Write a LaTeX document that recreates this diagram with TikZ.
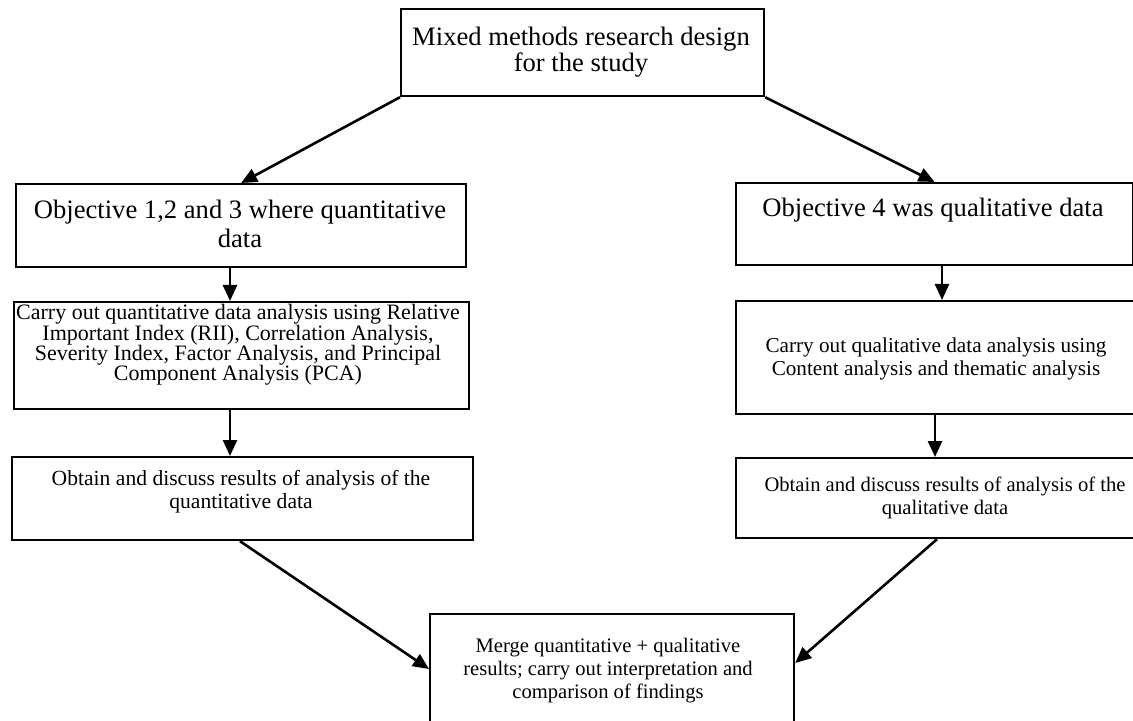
\documentclass[tikz,border=0pt]{standalone}
\usepackage{fontspec}
\setmainfont{Liberation Serif}
\usetikzlibrary{arrows.meta}
\lineskiplimit=-20pt
\begin{document}
\begin{tikzpicture}[x=0.5pt,y=-0.5pt,
  box/.style={draw, line width=1.1pt, inner sep=0pt, anchor=north west},
  arr/.style={line width=1.3pt, -{Triangle[length=8pt,width=7pt]}},
  txt/.style={align=center, inner sep=0pt, anchor=center},
  bigA/.style={txt, font=\fontsize{13.3pt}{13.35pt}\selectfont},
  bigB/.style={txt, font=\fontsize{13.3pt}{14.5pt}\selectfont},
  midA/.style={txt, font=\fontsize{11pt}{10.15pt}\selectfont},
  midB/.style={txt, font=\fontsize{10.6pt}{11.15pt}\selectfont},
  midC/.style={txt, font=\fontsize{10.8pt}{11.65pt}\selectfont},
  midD/.style={txt, font=\fontsize{10.3pt}{11.65pt}\selectfont},
  midE/.style={txt, font=\fontsize{10.3pt}{11.4pt}\selectfont}]
\useasboundingbox (0,0) rectangle (1133,721);
\clip (0,0) rectangle (1133,721);
\fill[white] (0,0) rectangle (1133,721);

% boxes
\node[box, minimum width=181.5pt, minimum height=43.5pt] (t)  at (400,8)   {};
\node[box, minimum width=225pt,   minimum height=41.5pt] (b2) at (15,183)  {};
\node[box, minimum width=198.5pt, minimum height=41pt]   (b3) at (735,182) {};
\node[box, minimum width=227.5pt, minimum height=53.5pt] (b4) at (13,301)  {};
\node[box, minimum width=201pt,   minimum height=56.5pt] (b5) at (735,300) {};
\node[box, minimum width=230.5pt, minimum height=41.5pt] (b6) at (11,456)  {};
\node[box, minimum width=210pt,   minimum height=40pt]   (b7) at (735,457) {};
\node[box, minimum width=182pt,   minimum height=63.5pt] (b8) at (429,613) {};

% texts
\node[bigA] (tt) at (581,52.2) {Mixed methods research design\\for the study};
\node[bigB] (t2) at (240,223.7) {Objective 1,2 and 3 where quantitative\\data};
\node[bigA] (t3) at (933,210.5) {Objective 4 was qualitative data};
\node[midA] (t4) at (238,345) {Carry out quantitative data analysis using Relative\\Important Index (RII), Correlation Analysis,\\Severity Index, Factor Analysis, and Principal\\Component Analysis (PCA)};
\node[midB] (t5) at (936,358.9) {Carry out qualitative data analysis using\\Content analysis and thematic analysis};
\node[midC] (t6) at (241,491.6) {Obtain and discuss results of analysis of the\\quantitative data};
\node[midD] (t7) at (945,497.6) {Obtain and discuss results of analysis of the\\qualitative data};
\node[midE] (t8) at (608,670.6) {Merge quantitative + qualitative\\results; carry out interpretation and\\comparison of findings};

% helper coordinates
\coordinate (xl) at (230,0);
\coordinate (xr1) at (942,0);
\coordinate (xr2) at (935,0);
\coordinate (s6) at (240,0);
\coordinate (s7) at (937,0);
\coordinate (yl8) at (0,669);
\coordinate (yr8) at (0,663);

% connectors
\draw[arr] (t.south west) -- (b2.north);
\draw[arr] (t.south east) -- (b3.north);
\draw[arr] (b2.south -| xl) -- (b4.north -| xl);
\draw[arr] (b4.south -| xl) -- (b6.north -| xl);
\draw[arr] (b3.south -| xr1) -- (b5.north -| xr1);
\draw[arr] (b5.south -| xr2) -- (b7.north -| xr2);
\draw[arr] (b6.south -| s6) -- (b8.west |- yl8);
\draw[arr] (b7.south -| s7) -- (b8.east |- yr8);
\end{tikzpicture}
\end{document}
